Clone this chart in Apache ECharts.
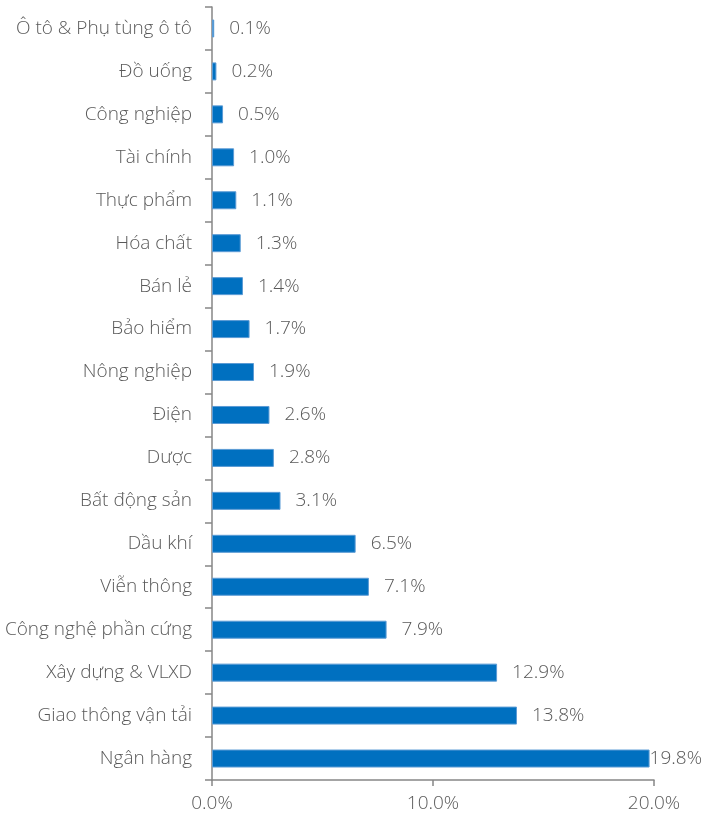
<!DOCTYPE html>
<html><head><meta charset="utf-8">
<script src="https://cdn.jsdelivr.net/npm/echarts@6/dist/echarts.min.js"></script>
<style>html,body{margin:0;padding:0;background:#fff}#c{width:704px;height:818px}</style>
</head><body><div id="c"></div>
<script>
const categories = ["Ô tô & Phụ tùng ô tô","Đồ uống","Công nghiệp","Tài chính","Thực phẩm","Hóa chất","Bán lẻ","Bảo hiểm","Nông nghiệp","Điện","Dược","Bất động sản","Dầu khí","Viễn thông","Công nghệ phần cứng","Xây dựng & VLXD","Giao thông vận tải","Ngân hàng"];
const values = [0.1,0.2,0.5,1.0,1.1,1.3,1.4,1.7,1.9,2.6,2.8,3.1,6.5,7.1,7.9,12.9,13.8,19.8];
const xTicks = [0,10,20];

const font = '"Open Sans", sans-serif';
const axisColor = '#868686';
const txt = '#595959';
const fs = 19;
const chart = echarts.init(document.getElementById('c'));
chart.setOption({
  animation:false,
  grid:{left:212,right:50,top:7,bottom:38,containLabel:false},
  xAxis:{type:'value',min:xTicks[0],max:xTicks[xTicks.length-1],interval:10,
    axisLine:{show:true,lineStyle:{color:axisColor,width:1.5}},
    axisTick:{show:true,length:6,lineStyle:{color:axisColor,width:1.5}},
    splitLine:{show:false},
    axisLabel:{margin:14,color:txt,fontSize:fs,fontWeight:300,fontFamily:font,formatter:v=>v.toFixed(1)+'%'}},
  yAxis:{type:'category',inverse:true,data:categories,
    axisLine:{lineStyle:{color:axisColor,width:1.5}},
    axisTick:{show:true,length:7,lineStyle:{color:axisColor,width:1.5}},
    axisLabel:{margin:20,color:txt,fontSize:fs,fontWeight:300,fontFamily:font}},
  series:[{type:'bar',barWidth:18,
    data:values.map((v,i)=>i===values.length-1?{value:v,label:{distance:0}}:v),
    itemStyle:{color:'#0070C0',borderColor:'#5B9BD5',borderWidth:1},
    label:{show:true,position:'right',distance:15,color:txt,fontSize:fs,fontWeight:300,fontFamily:font,formatter:p=>p.value.toFixed(1)+'%'}}]
});
</script></body></html>
